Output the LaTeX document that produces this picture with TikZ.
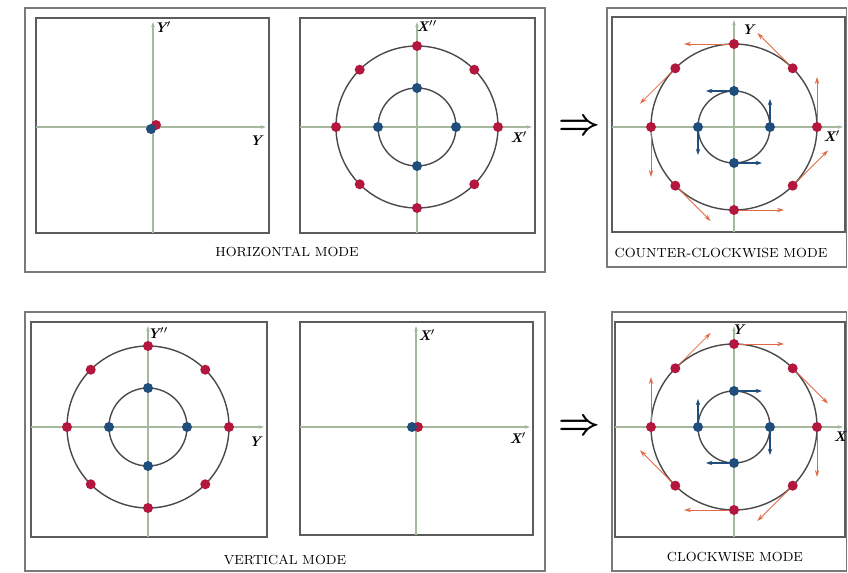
\documentclass[tikz,border=0pt]{standalone}
\usetikzlibrary{positioning, arrows.meta, calc}
\definecolor{mRed}{HTML}{B3173E}
\definecolor{mBlue}{HTML}{1F4D7C}
\definecolor{mArrow}{HTML}{E06A45}
\definecolor{mAxis}{HTML}{A6B89E}
\definecolor{mFrame}{HTML}{7A7A7A}
\definecolor{mRing}{HTML}{4A4A4A}

\begin{document}
\begin{tikzpicture}[x=0.02cm, y=0.02cm,
  every node/.style={font=\rmfamily},
  rdot/.style={circle, fill=mRed, inner sep=0pt, minimum size=0.2cm},
  bdot/.style={circle, fill=mBlue, inner sep=0pt, minimum size=0.2cm},
  frame/.style={draw=mFrame, line width=0.8pt},
  pbox/.style={draw=mRing!90, line width=1pt},
  axis/.style={draw=mAxis, line width=0.6pt, -{Stealth[length=3pt, width=2pt]}},
  ring/.style={draw=mRing, line width=0.8pt},
  rarr/.style={draw=mArrow, line width=0.5pt, -{Stealth[length=4pt, width=2.5pt]}},
  barr/.style={draw=mBlue, line width=0.7pt, -{Stealth[length=3.5pt, width=2.5pt]}},
  axlbl/.style={font=\fontsize{8}{9}\selectfont\bfseries\itshape},
  mode/.style={font=\fontsize{7.5}{9}\selectfont},
  imp/.style={font=\fontsize{21}{24}\selectfont\boldmath},
]
  \useasboundingbox (0,0) rectangle (848,-573);

  % Panel centres
  \coordinate (c1) at (153,-127);
  \coordinate (c2) at (417,-127);
  \coordinate (c3) at (734,-127);
  \coordinate (c4) at (148,-427);
  \coordinate (c5) at (416,-427);
  \coordinate (c6) at (734,-427);

  % Frames
  \draw[frame] (25,-8) rectangle (545,-272);
  \draw[frame] (607,-8) rectangle (846.5,-267);
  \draw[frame] (25,-312) rectangle (545,-571);
  \draw[frame] (612,-312) rectangle (846.5,-571);

  \draw[pbox] (36,-18) rectangle (269,-233);
  \draw[pbox] (300,-18) rectangle (535,-233);
  \draw[pbox] (612,-17) rectangle (845,-232);
  \draw[pbox] (31,-322) rectangle (267,-537);
  \draw[pbox] (300,-322) rectangle (533,-535);
  \draw[pbox] (615,-322) rectangle (845,-537);

  % Axes
  \draw[axis] (36,-127) -- (266,-127);
  \draw[axis] (153,-233) -- (153,-22);
  \draw[axis] (300,-127) -- (532,-127);
  \draw[axis] (417,-233) -- (417,-22);
  \draw[axis] (612,-127) -- (843,-127);
  \draw[axis] (734,-232) -- (734,-20);
  \draw[axis] (31,-427) -- (264,-427);
  \draw[axis] (148,-537) -- (148,-326);
  \draw[axis] (300,-427) -- (530,-427);
  \draw[axis] (416,-535) -- (416,-326);
  \draw[axis] (615,-427) -- (843,-427);
  \draw[axis] (734,-537) -- (734,-326);

  % Axis labels
  \node[axlbl] (l1t) at (163,-27) {Y$'$};
  \node[axlbl] (l1r) at (256,-141) {Y};
  \node[axlbl] (l2t) at (427,-26) {X$''$};
  \node[axlbl] (l2r) at (519,-137) {X$'$};
  \node[axlbl] (l3t) at (748,-30) {Y};
  \node[axlbl] (l3r) at (832,-136) {X$'$};
  \node[axlbl] (l4t) at (158,-333) {Y$''$};
  \node[axlbl] (l4r) at (255,-442) {Y};
  \node[axlbl] (l5t) at (427,-335) {X$'$};
  \node[axlbl] (l5r) at (518,-438) {X$'$};
  \node[axlbl] (l6t) at (738,-330) {Y};
  \node[axlbl] (l6r) at (840,-437) {X};

  % Horizontal mode
  \node[rdot] (h1r) at (156,-125) {};
  \node[bdot] (h1b) at (151,-129) {};

  \draw[ring] (c2) circle[radius=81];
  \draw[ring] (c2) circle[radius=39];
  \foreach \a in {0,45,...,315}
    \node[rdot] (h2r\a) at ($(c2)+(\a:81)$) {};
  \foreach \a in {0,90,180,270}
    \node[bdot] (h2b\a) at ($(c2)+(\a:39)$) {};

  \node[mode] (hmode) at (287,-252) {HORIZONTAL MODE};
  \node[imp] (imp1) at (579,-127) {$\Rightarrow$};

  % Counter-clockwise mode
  \draw[ring] (c3) circle[radius=83];
  \draw[ring] (c3) circle[radius=36];
  \foreach \a in {0,45,...,315} {
    \node[rdot] (ccr\a) at ($(c3)+(\a:83)$) {};
    \coordinate (ccra\a) at ($(ccr\a)+(\a+90:50)$);
    \draw[rarr] (ccr\a) -- (ccra\a);
  }
  \foreach \a in {0,90,180,270} {
    \node[bdot] (ccb\a) at ($(c3)+(\a:36)$) {};
    \coordinate (ccba\a) at ($(ccb\a)+(\a+90:28)$);
    \draw[barr] (ccb\a) -- (ccba\a);
  }
  \node[mode] (ccmode) at (721,-253) {COUNTER-CLOCKWISE MODE};

  % Vertical mode
  \draw[ring] (c4) circle[radius=81];
  \draw[ring] (c4) circle[radius=39];
  \foreach \a in {0,45,...,315}
    \node[rdot] (v1r\a) at ($(c4)+(\a:81)$) {};
  \foreach \a in {0,90,180,270}
    \node[bdot] (v1b\a) at ($(c4)+(\a:39)$) {};

  \node[rdot] (v2r) at (418,-427) {};
  \node[bdot] (v2b) at (412,-427) {};

  \node[mode] (vmode) at (285,-560) {VERTICAL MODE};
  \node[imp] (imp2) at (579,-427) {$\Rightarrow$};

  % Clockwise mode
  \draw[ring] (c6) circle[radius=83];
  \draw[ring] (c6) circle[radius=36];
  \foreach \a in {0,45,...,315} {
    \node[rdot] (cwr\a) at ($(c6)+(\a:83)$) {};
    \coordinate (cwra\a) at ($(cwr\a)+(\a-90:50)$);
    \draw[rarr] (cwr\a) -- (cwra\a);
  }
  \foreach \a in {0,90,180,270} {
    \node[bdot] (cwb\a) at ($(c6)+(\a:36)$) {};
    \coordinate (cwba\a) at ($(cwb\a)+(\a-90:28)$);
    \draw[barr] (cwb\a) -- (cwba\a);
  }
  \node[mode] (cwmode) at (735,-557) {CLOCKWISE MODE};
\end{tikzpicture}
\end{document}
